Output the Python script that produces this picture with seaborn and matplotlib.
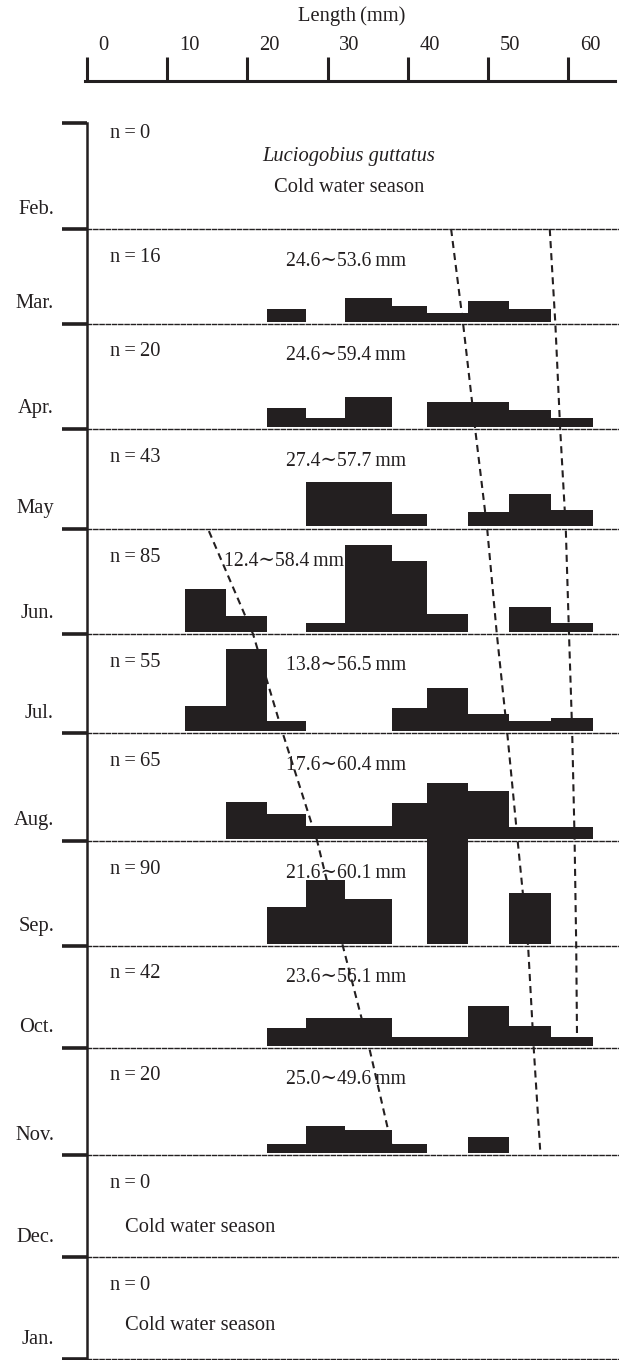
import numpy as np
import matplotlib
matplotlib.use("Agg")
import matplotlib.pyplot as plt
import seaborn as sns
from matplotlib.transforms import blended_transform_factory

# --- data ---
MONTHS = ["Feb.", "Mar.", "Apr.", "May", "Jun.", "Jul.", "Aug.", "Sep.", "Oct.", "Nov.", "Dec.", "Jan."]
N_FISH = [0, 16, 20, 43, 85, 55, 65, 90, 42, 20, 0, 0]
RANGES = [None, "24.6\u223c53.6", "24.6\u223c59.4", "27.4\u223c57.7", "12.4\u223c58.4",
          "13.8\u223c56.5", "17.6\u223c60.4", "21.6\u223c60.1", "23.6\u223c56.1",
          "25.0\u223c49.6", None, None]

# length-class edges (mm) as drawn
EDGES = [12.2, 17.3, 22.4, 27.3, 32.2, 38.0, 42.4, 47.5, 52.6, 57.8, 63.1]

# bar heights per length class (drawing units)
HEIGHTS = {
    "Mar.": [0, 0, 12.3, 0, 23.7, 15.7, 9, 20.3, 12.3, 0],
    "Apr.": [0, 0, 18.7, 8.3, 29.7, 0, 24.7, 24.7, 17, 9],
    "May":  [0, 0, 0, 44, 44, 12.3, 0, 14.7, 32.3, 16.3],
    "Jun.": [43, 16, 0, 9, 86.7, 70, 18, 0, 24.3, 9],
    "Jul.": [25, 81.7, 9.7, 0, 0, 23, 42.7, 17, 9.3, 12.3],
    "Aug.": [0, 36.3, 24.7, 12.7, 12.7, 35.7, 56, 47.7, 12, 12],
    "Sep.": [0, 0, 37, 64, 45, 0, 160.3, 0, 50.3, 0],
    "Oct.": [0, 0, 17.3, 27.3, 27.3, 8.7, 8.7, 40, 19.3, 8.7],
    "Nov.": [0, 0, 9, 26.7, 22.3, 9, 0, 16, 0, 0],
}

# cohort tracking lines: position in month boundaries (0 = top of Feb) and length (mm)
TREND_A_POS = [1, 2, 3, 4, 5, 6, 7, 8, 9, 9.95]
TREND_A_MM = [45.4, 46.9, 48.4, 49.9, 51.1, 52.4, 53.7, 55.0, 55.7, 56.5]
TREND_B_POS = [1, 2, 3, 4, 5, 6, 7, 8, 8.9]
TREND_B_MM = [57.7, 58.4, 59.0, 59.7, 60.1, 60.5, 60.8, 61.0, 61.1]
TREND_C_POS = [4.02, 5, 6, 7, 8, 9, 9.98]
TREND_C_MM = [15.2, 20.7, 24.4, 28.7, 31.9, 35.2, 38.2]

RULER_TICKS = [0, 10, 20, 30, 40, 50, 60]

# --- layout (pixels) ---
W, H = 619, 1360
BOUNDS = [123, 229, 324, 429, 529, 634, 733, 841, 946, 1048, 1155, 1257, 1359]
X0, X1 = 87, 619
PX_PER_MM = 8.02
XMAX = (X1 - X0) / PX_PER_MM
INK = "#231f20"


def fx(px):
    return px / W


def fy(py):
    return 1 - py / H


sns.set_style("white")
plt.rcParams["font.family"] = ["Liberation Serif", "DejaVu Serif"]
plt.rcParams["font.size"] = 14.8
plt.rcParams["text.color"] = INK

fig = plt.figure(figsize=(W / 100, H / 100), dpi=100)

centers = [(a + b) / 2 for a, b in zip(EDGES[:-1], EDGES[1:])]

for i, month in enumerate(MONTHS):
    top, bot = BOUNDS[i], BOUNDS[i + 1]
    ax = fig.add_axes([fx(X0), fy(bot), fx(X1) - fx(X0), (bot - top) / H])
    ax.patch.set_alpha(0)
    if month in HEIGHTS:
        sns.histplot(x=centers, weights=HEIGHTS[month], bins=EDGES, ax=ax,
                     color=INK, alpha=1, linewidth=0, stat="count")
        for p in ax.patches:
            p.set_clip_on(False)
    ax.set_xlim(0, XMAX)
    ax.set_ylim(-2.5, bot - top - 2.5)
    ax.set(xlabel="", ylabel="", xticks=[], yticks=[])
    for s in ["top", "left", "right"]:
        ax.spines[s].set_visible(False)
    ax.spines["bottom"].set_linestyle((0, (3, 1.5)))
    ax.spines["bottom"].set_linewidth(1.0)
    ax.spines["bottom"].set_color(INK)

    # labels
    fig.text(fx(54), fy(bot - 20), month, ha="right", va="center")
    n_y = top + 10 if i == 0 else top + 28
    fig.text(fx(110), fy(n_y), f"n\u2009=\u2009{N_FISH[i]}", ha="left", va="center")
    if RANGES[i] is not None:
        rx = 224 if month == "Jun." else 286
        fig.text(fx(rx), fy(top + 32), RANGES[i] + "\u2009mm", ha="left", va="center",
                 fontsize=14.2)

# species and season notes
fig.text(fx(349), fy(157), "Luciogobius guttatus", ha="center", va="center", style="italic")
fig.text(fx(349), fy(188), "Cold water season", ha="center", va="center")
fig.text(fx(125), fy(BOUNDS[10] + 72), "Cold water season", ha="left", va="center")
fig.text(fx(125), fy(BOUNDS[11] + 68), "Cold water season", ha="left", va="center")

# overlay: vertical month axis + cohort lines
ov = fig.add_axes([fx(X0), fy(BOUNDS[-1]), fx(X1) - fx(X0), (BOUNDS[-1] - BOUNDS[0]) / H])
ov.patch.set_alpha(0)
ov.set_xlim(0, XMAX)
ov.set_ylim(BOUNDS[-1], BOUNDS[0])
for s in ["top", "right", "bottom"]:
    ov.spines[s].set_visible(False)
ov.spines["left"].set_linewidth(1.8)
ov.spines["left"].set_color(INK)
ov.set_xticks([])
ov.set_yticks(BOUNDS)
ov.tick_params(axis="y", left=True, direction="out", length=18, width=2.6,
               color=INK, labelleft=False)

idx = np.arange(len(BOUNDS))
for pos, mm in [(TREND_A_POS, TREND_A_MM), (TREND_B_POS, TREND_B_MM), (TREND_C_POS, TREND_C_MM)]:
    ov.plot(mm, np.interp(pos, idx, BOUNDS), color=INK, lw=1.5, ls=(0, (3.4, 2.4)), clip_on=False)

# top ruler
ra = fig.add_axes([fx(85), fy(81), fx(615) - fx(85), (81 - 40) / H])
ra.patch.set_alpha(0)
ra.set_xlim((85 - X0) / PX_PER_MM, (615 - X0) / PX_PER_MM)
ra.set_ylim(0, 1)
for s in ["top", "right", "left"]:
    ra.spines[s].set_visible(False)
ra.spines["bottom"].set_linewidth(2.2)
ra.spines["bottom"].set_color(INK)
ra.set_yticks([])
ra.set_xticks(RULER_TICKS)
ra.tick_params(axis="x", bottom=True, direction="in", length=17, width=2.2,
               color=INK, labelbottom=False)
tr = blended_transform_factory(ra.transData, fig.transFigure)
for v in RULER_TICKS:
    ra.text(v + 1.45, fy(46), str(v), transform=tr, ha="left", va="center")
fig.text(fx(352), fy(16), "Length\u2009(mm)", ha="center", va="center")

fig.savefig("out.png", dpi=100)
